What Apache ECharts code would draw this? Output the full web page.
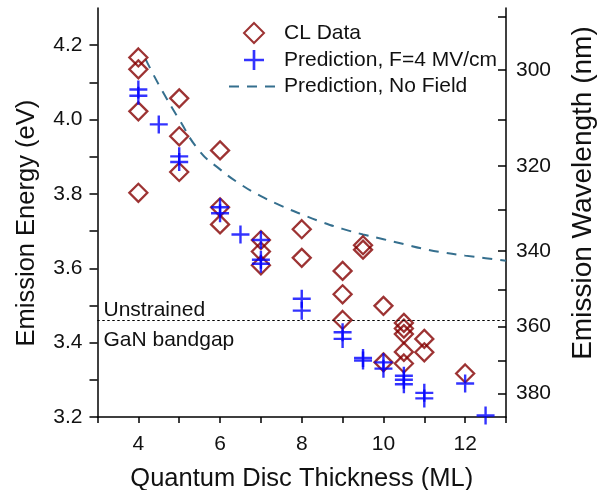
<!DOCTYPE html>
<html>
<head>
<meta charset="utf-8">
<script src="https://cdn.jsdelivr.net/npm/echarts@6/dist/echarts.min.js"></script>
<style>
html,body{margin:0;padding:0;background:#fff;}
#chart{width:598px;height:490px;}
</style>
</head>
<body>
<div id="chart"></div>
<script>
// ---- data ----
var clX = [4,4,4,4, 5,5,5, 6,6,6, 7,7,7, 8,8, 9,9,9, 9.5,9.5, 10,10, 10.5,10.5,10.5,10.5,10.5, 11,11, 12];
var clE = [4.167,4.135,4.022,3.803, 4.057,3.955,3.859, 3.917,3.764,3.718, 3.676,3.645,3.608, 3.705,3.628, 3.593,3.530,3.461, 3.662,3.650, 3.499,3.347, 3.453,3.438,3.423,3.375,3.344, 3.410,3.374, 3.317];

var predX = [4,4, 4.5, 5,5, 6,6, 6.5, 7,7,7, 8,8, 9,9, 9.5,9.5, 10,10, 10.5,10.5,10.5, 11,11, 12,12, 12.5];
var predE = [4.081,4.064, 3.987, 3.901,3.886, 3.764,3.748, 3.691, 3.676,3.623,3.612, 3.518,3.486, 3.428,3.410, 3.359,3.352, 3.347,3.330, 3.311,3.300,3.288, 3.265,3.250, 3.290,3.186, 3.204];

var noFieldX = [4.18, 4.5, 5, 5.5, 6, 6.5, 7, 7.5, 8, 8.5, 9, 9.5, 10, 10.5, 11, 11.5, 12, 12.5, 13];
var noFieldE = [4.162, 4.094, 4.000, 3.915, 3.866, 3.826, 3.794, 3.768, 3.745, 3.724, 3.706, 3.691, 3.678, 3.665, 3.652, 3.642, 3.634, 3.627, 3.620];

var bandgapE = 3.46;

var xTickValues = [3,4,5,6,7,8,9,10,11,12,13];
var xLabelValues = [4,6,8,10,12];
var yTickValues = [3.2,3.3,3.4,3.5,3.6,3.7,3.8,3.9,4.0,4.1,4.2];
var yLabelValues = [3.2,3.4,3.6,3.8,4.0,4.2];
var nmTickValues = [290,300,310,320,330,340,350,360,370,380];
var nmLabelValues = [300,320,340,360,380];
var HC = 1239.84; // eV*nm

var seriesNames = ['CL Data', 'Prediction, F=4 MV/cm', 'Prediction, No Field'];

// ---- build ----
function zip(a, b) { return a.map(function (v, i) { return [v, b[i]]; }); }
function nmToE(nm) { return HC / nm; }

var FONT = "Arial, 'Liberation Sans', sans-serif";
var NB = '\u00a0';
var plus = 'path://M-1.2,-9 L1.2,-9 L1.2,-1.2 L9,-1.2 L9,1.2 L1.2,1.2 L1.2,9 L-1.2,9 L-1.2,1.2 L-9,1.2 L-9,-1.2 L-1.2,-1.2 Z';
var diamond = 'path://M0,-10 L10,0 L0,10 L-10,0 Z';

var chart = echarts.init(document.getElementById('chart'), null, {renderer: 'canvas'});
var option = {
  animation: false,
  backgroundColor: '#ffffff',
  textStyle: {fontFamily: FONT, color: '#000'},
  grid: {left: 97.5, right: 92, top: 8, bottom: 73, containLabel: false, outerBoundsMode: 'none'},
  legend: {
    orient: 'vertical',
    left: 228, top: 22,
    padding: 0,
    itemWidth: 50, itemHeight: 20, itemGap: 5.5,
    textStyle: {fontFamily: FONT, fontSize: 21, color: '#111'},
    data: [
      {name: seriesNames[0]},
      {name: seriesNames[1]},
      {name: seriesNames[2], itemStyle: {opacity: 0}}
    ]
  },
  xAxis: {
    type: 'value', min: 3, max: 13,
    name: 'Quantum Disc Thickness (ML)', nameLocation: 'middle', nameGap: 49,
    nameTextStyle: {fontFamily: FONT, fontSize: 25.5, color: '#111'},
    axisLine: {onZero: false, lineStyle: {color: '#000', width: 1.5}},
    axisTick: {show: true, inside: false, length: 6, lineStyle: {color: '#000', width: 1.5}, customValues: xTickValues},
    axisLabel: {fontFamily: FONT, fontSize: 21, color: '#111', margin: 17, customValues: xLabelValues},
    splitLine: {show: false}
  },
  yAxis: [{
    type: 'value', min: 3.2, max: 4.3, position: 'left',
    name: 'Emission Energy (eV)' + NB + NB + NB, nameLocation: 'middle', nameGap: 58, nameRotate: 90,
    nameTextStyle: {fontFamily: FONT, fontSize: 25.5, color: '#111'},
    axisLine: {onZero: false, lineStyle: {color: '#000', width: 1.5}},
    axisTick: {show: true, inside: false, length: 8, lineStyle: {color: '#000', width: 1.5}, customValues: yTickValues},
    axisLabel: {fontFamily: FONT, fontSize: 21, color: '#111', margin: 15,
      customValues: yLabelValues, formatter: function (v) { return v.toFixed(1); }},
    splitLine: {show: false}
  }, {
    type: 'value', min: 3.2, max: 4.3, position: 'right',
    name: NB + NB + NB + NB + NB + 'Emission Wavelength (nm)', nameLocation: 'middle', nameGap: 63, nameRotate: 90,
    nameTextStyle: {fontFamily: FONT, fontSize: 28, color: '#111'},
    axisLine: {show: true, onZero: false, lineStyle: {color: '#000', width: 1.5}},
    axisTick: {show: true, inside: true, length: 8, lineStyle: {color: '#000', width: 1.5},
      customValues: nmTickValues.map(nmToE)},
    axisLabel: {fontFamily: FONT, fontSize: 21, color: '#111', margin: 10,
      customValues: nmLabelValues.map(nmToE),
      formatter: function (v) { return String(Math.round(HC / v)); }},
    splitLine: {show: false}
  }],
  series: [{
    name: seriesNames[2],
    type: 'line',
    data: zip(noFieldX, noFieldE),
    smooth: true,
    symbol: 'none',
    lineStyle: {color: '#356f8e', width: 2, type: [10, 8]},
    itemStyle: {color: 'rgba(0,0,0,0)', borderWidth: 0},
    z: 2,
    markLine: {
      silent: true,
      symbol: ['none', 'none'],
      lineStyle: {color: '#000', width: 1, type: [2, 3]},
      label: {fontFamily: FONT, fontSize: 21, color: '#111'},
      data: [
        {yAxis: bandgapE, label: {position: 'insideStartTop', formatter: 'Unstrained', distance: [6, 0]}},
        {yAxis: bandgapE, label: {position: 'insideStartBottom', formatter: 'GaN bandgap', distance: [6, 9]}}
      ]
    }
  }, {
    name: seriesNames[0],
    type: 'scatter',
    data: zip(clX, clE),
    symbol: diamond,
    symbolKeepAspect: true,
    symbolSize: 18,
    itemStyle: {color: 'rgba(0,0,0,0)', borderColor: '#850000', borderWidth: 2.3},
    z: 3
  }, {
    name: seriesNames[1],
    type: 'scatter',
    data: zip(predX, predE),
    symbol: plus,
    symbolKeepAspect: true,
    symbolSize: 18,
    itemStyle: {color: '#0000ff'},
    z: 4
  }]
};
chart.setOption(option);
</script>
</body>
</html>
